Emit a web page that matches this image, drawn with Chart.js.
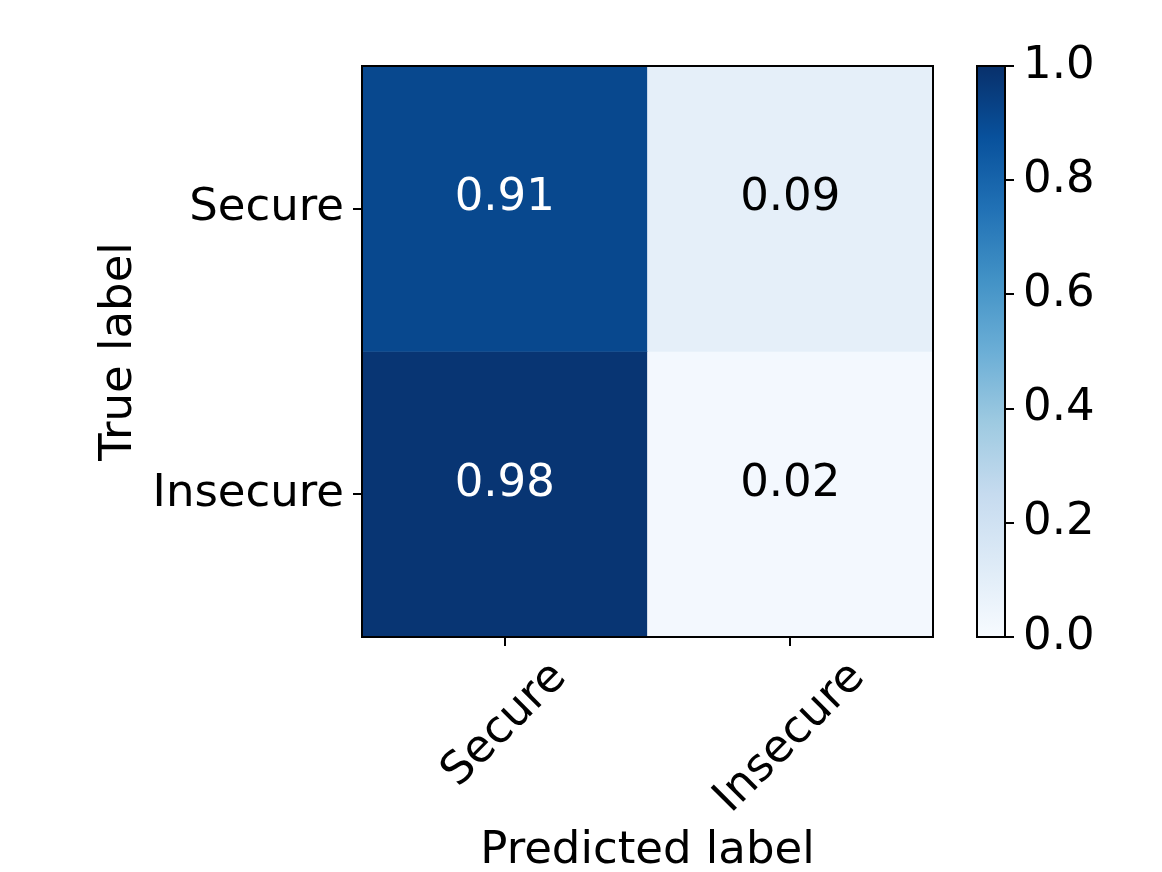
<!DOCTYPE html>
<html>
<head>
<meta charset="utf-8">
<script src="https://cdn.jsdelivr.net/npm/chart.js@4"></script>
<style>
  body { margin: 0; background: #fff; }
  #wrap { position: relative; width: 1162px; height: 872px; }
  canvas { position: absolute; left: 0; top: 0; }
</style>
</head>
<body>
<div id="wrap">
  <canvas id="matrix" width="1162" height="872"></canvas>
  <canvas id="colorbar" width="1162" height="872"></canvas>
</div>
<script>
// labels and normalized confusion values (rows = true label)
const predictedLabels = ["Secure", "Insecure"];
const trueLabels = ["Secure", "Insecure"];
const secureRow = [0.91, 0.09];
const insecureRow = [0.98, 0.02];
const colorbarTicks = [0.0, 0.2, 0.4, 0.6, 0.8, 1.0];

// matplotlib "Blues" colour stops
const blueStops = ["#f7fbff", "#deebf7", "#c6dbef", "#9ecae1", "#6baed6",
                   "#4292c6", "#2171b5", "#08519c", "#08306b"];

function hexToRgb(h) {
  return [1, 3, 5].map(i => parseInt(h.substr(i, 2), 16));
}

function blues(v) {
  let t = Math.max(0, Math.min(1, v)) * (blueStops.length - 1);
  let i = Math.min(Math.floor(t), blueStops.length - 2);
  let f = t - i;
  let a = hexToRgb(blueStops[i]);
  let b = hexToRgb(blueStops[i + 1]);
  let c = a.map((x, k) => Math.round(x + (b[k] - x) * f));
  return "rgb(" + c.join(",") + ")";
}

const font = { family: "DejaVu Sans", size: 45 };
const rows = [secureRow, insecureRow];

// black frame round the plot area
const framePlugin = {
  id: "frame",
  afterDraw(chart) {
    const { ctx, chartArea: a } = chart;
    ctx.save();
    ctx.strokeStyle = "#000";
    ctx.lineWidth = 2;
    ctx.strokeRect(a.left, a.top, a.right - a.left, a.bottom - a.top);
    ctx.restore();
  },
};

// values written in the cells
const cellTextPlugin = {
  id: "cellText",
  afterDatasetsDraw(chart) {
    const ctx = chart.ctx;
    ctx.save();
    ctx.font = font.size + "px " + font.family;
    ctx.textAlign = "center";
    ctx.textBaseline = "middle";
    chart.data.datasets.forEach((ds, d) => {
      chart.getDatasetMeta(d).data.forEach((bar, i) => {
        let v = ds.values[i];
        ctx.fillStyle = v > 0.5 ? "#fff" : "#000";
        ctx.fillText(v.toFixed(2), bar.x, (bar.y + bar.base) / 2 - 10);
      });
    });
    ctx.restore();
  },
};

// rotated x tick labels, centred under the tick like matplotlib
const xLabelPlugin = {
  id: "xLabels",
  afterDraw(chart) {
    const ctx = chart.ctx;
    const xs = chart.scales.x;
    const top = chart.chartArea.bottom + 9 + 9;
    ctx.save();
    ctx.font = font.size + "px " + font.family;
    ctx.fillStyle = "#000";
    ctx.textAlign = "center";
    ctx.textBaseline = "middle";
    predictedLabels.forEach((lab, i) => {
      let w = ctx.measureText(lab).width;
      let h = font.size * 0.97;
      let half = (w + h) / (2 * Math.SQRT2);
      ctx.save();
      ctx.translate(xs.getPixelForValue(i), top + half);
      ctx.rotate(-Math.PI / 4);
      ctx.fillText(lab, 0, 0);
      ctx.restore();
    });
    ctx.restore();
  },
};

let matrixChart = new Chart(document.getElementById("matrix"), {
  type: "bar",
  data: {
    labels: predictedLabels,
    datasets: rows.map((vals, r) => ({
      label: trueLabels[r],
      values: vals,
      data: vals.map(() => [rows.length - 1 - r, rows.length - r]),
      backgroundColor: vals.map(blues),
      borderWidth: 0,
      barPercentage: 1,
      categoryPercentage: 1,
      grouped: false,
    })),
  },
  options: {
    responsive: false,
    animation: false,
    layout: { padding: { left: 0, top: 66, right: 229, bottom: 0 } },
    plugins: { legend: { display: false }, tooltip: { enabled: false } },
    scales: {
      x: {
        ticks: { display: false },
        grid: { offset: false, drawOnChartArea: false, tickLength: 9, color: "#000", lineWidth: 2 },
        border: { display: false },
        title: { display: true, text: "Predicted label", color: "#000", font: { ...font, lineHeight: 1 }, padding: { top: 0, bottom: -2 } },
        afterFit: s => { s.height = 235; },
      },
      y: {
        min: 0,
        max: 2,
        afterBuildTicks: a => { a.ticks = trueLabels.map((t, i) => ({ value: i + 0.5 })); },
        ticks: {
          color: "#000",
          font: font,
          padding: 9,
          callback: v => trueLabels[trueLabels.length - 1 - Math.floor(v)],
        },
        grid: { drawOnChartArea: false, tickLength: 9, color: "#000", lineWidth: 2 },
        border: { display: false },
        title: { display: true, text: "True label", color: "#000", font: { ...font, lineHeight: 1 }, padding: { top: 97, bottom: 0 } },
        afterFit: s => { s.width = 362; },
      },
    },
  },
  plugins: [framePlugin, cellTextPlugin, xLabelPlugin],
});

let colorbarChart = new Chart(document.getElementById("colorbar"), {
  type: "bar",
  data: {
    labels: [""],
    datasets: [{
      data: [[0, 1]],
      borderWidth: 0,
      barPercentage: 1,
      categoryPercentage: 1,
      backgroundColor: (c) => {
        const area = c.chart.chartArea;
        if (!area) return null;
        let g = c.chart.ctx.createLinearGradient(0, area.bottom, 0, area.top);
        blueStops.forEach((col, i) => g.addColorStop(i / (blueStops.length - 1), col));
        return g;
      },
    }],
  },
  options: {
    responsive: false,
    animation: false,
    layout: { padding: { left: 977, top: 66, right: 0, bottom: 235 } },
    plugins: { legend: { display: false }, tooltip: { enabled: false } },
    scales: {
      x: { display: false },
      y: {
        position: "right",
        min: 0,
        max: 1,
        afterBuildTicks: a => { a.ticks = colorbarTicks.map(v => ({ value: v })); },
        ticks: { color: "#000", font: font, padding: 9, callback: v => v.toFixed(1) },
        grid: { drawOnChartArea: false, tickLength: 9, color: "#000", lineWidth: 2 },
        border: { display: false },
        afterFit: s => { s.width = 1162 - 1005; },
      },
    },
  },
  plugins: [framePlugin],
});
</script>
</body>
</html>
